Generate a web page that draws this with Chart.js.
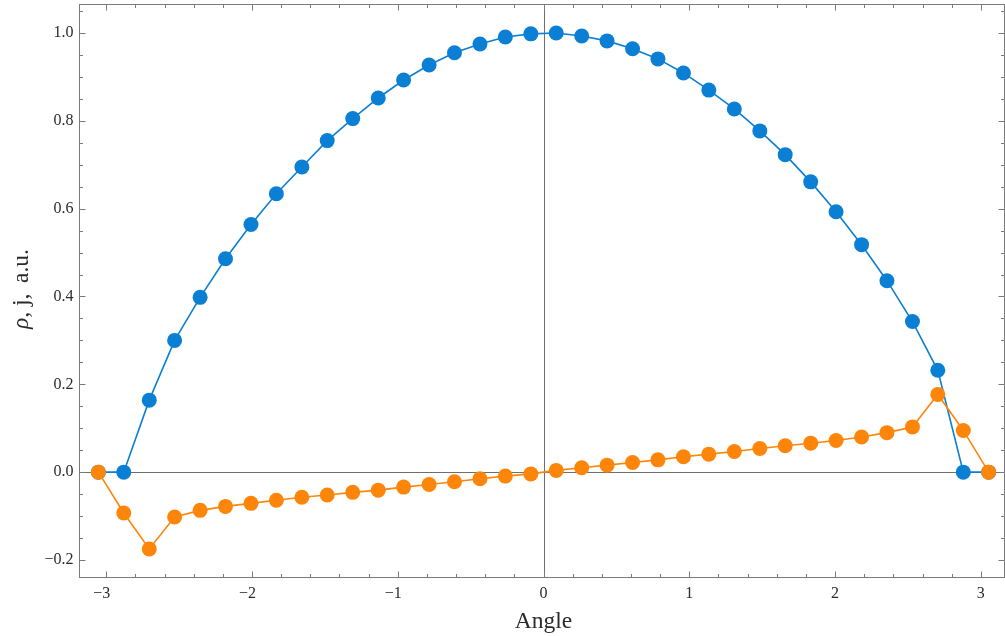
<!DOCTYPE html>
<html>
<head>
<meta charset="utf-8">
<script src="https://cdn.jsdelivr.net/npm/chart.js@4.4.1/dist/chart.umd.min.js"></script>
<style>
  body { margin: 0; background: #fff; }
  #wrap { width: 1005px; height: 636px; position: relative; }
</style>
</head>
<body>
<div id="wrap"><canvas id="plot"></canvas></div>
<script>
// sample angles (rad)
const angles = [
  -3.054, -2.880, -2.705, -2.531, -2.356, -2.182, -2.007, -1.833, -1.658,
  -1.484, -1.309, -1.134, -0.960, -0.785, -0.611, -0.436, -0.262, -0.087,
  0.087, 0.262, 0.436, 0.611, 0.785, 0.960, 1.134, 1.309, 1.484,
  1.658, 1.833, 2.007, 2.182, 2.356, 2.531, 2.705, 2.880, 3.054
];
// density rho
const rhoValues = [
  0.000, 0.000, 0.164, 0.300, 0.398, 0.486, 0.564, 0.634, 0.695,
  0.755, 0.805, 0.852, 0.893, 0.927, 0.955, 0.975, 0.991, 0.998,
  1.000, 0.993, 0.982, 0.964, 0.941, 0.909, 0.870, 0.827, 0.777,
  0.723, 0.661, 0.593, 0.518, 0.436, 0.343, 0.232, 0.000, 0.000
];
// current j
const jValues = [
  0.000, -0.093, -0.175, -0.102, -0.087, -0.078, -0.071, -0.064, -0.057,
  -0.052, -0.046, -0.041, -0.034, -0.028, -0.022, -0.015, -0.009, -0.004,
  0.004, 0.010, 0.016, 0.022, 0.028, 0.035, 0.041, 0.047, 0.054,
  0.060, 0.066, 0.072, 0.080, 0.090, 0.103, 0.177, 0.095, 0.000
];
const xTicks = [-3, -2, -1, 0, 1, 2, 3];
const yTicks = [-0.2, 0, 0.2, 0.4, 0.6, 0.8, 1.0];

const BLUE = "#0b7fd3";
const ORANGE = "#fd860a";
const FRAME = "#7a7a7a";
const FONT = "'Liberation Serif', 'DejaVu Serif', serif";

function fmtX(v) {
  return v < 0 ? "\u2212" + Math.abs(v) : String(v);
}
function fmtY(v) {
  const s = Math.abs(v).toFixed(1);
  return v < -1e-9 ? "\u2212" + s : s;
}

// zero axes behind the data
const zeroAxes = {
  id: "zeroAxes",
  beforeDatasetsDraw(chart) {
    const { ctx, chartArea: a, scales: { x, y } } = chart;
    ctx.save();
    ctx.strokeStyle = "#6e6e6e";
    ctx.lineWidth = 1;
    const x0 = Math.round(x.getPixelForValue(0)) + 0.5;
    const y0 = Math.round(y.getPixelForValue(0)) + 0.5;
    ctx.beginPath();
    ctx.moveTo(x0, a.top);
    ctx.lineTo(x0, a.bottom);
    ctx.moveTo(a.left, y0);
    ctx.lineTo(a.right, y0);
    ctx.stroke();
    ctx.restore();
  }
};

// frame, inward ticks, labels and titles
const frame = {
  id: "frame",
  afterDraw(chart) {
    const { ctx, chartArea: a, scales: { x, y } } = chart;
    ctx.save();
    ctx.strokeStyle = FRAME;
    ctx.lineWidth = 1;
    const L = Math.round(a.left) + 0.5, R = Math.round(a.right) - 0.5;
    const T = Math.round(a.top) + 0.5, B = Math.round(a.bottom) - 0.5;
    ctx.strokeRect(L, T, R - L, B - T);

    ctx.beginPath();
    // x ticks: major every 1, minor every 0.2
    for (let i = -16; i <= 16; i++) {
      const v = i / 5;
      if (v < x.min || v > x.max) continue;
      const len = i % 5 === 0 ? 6 : 3.5;
      const px = Math.round(x.getPixelForValue(v)) + 0.5;
      ctx.moveTo(px, B); ctx.lineTo(px, B - len);
      ctx.moveTo(px, T); ctx.lineTo(px, T + len);
    }
    // y ticks: major every 0.2, minor every 0.05
    for (let i = -5; i <= 21; i++) {
      const v = i / 20;
      if (v < y.min || v > y.max) continue;
      const len = i % 4 === 0 ? 6 : 3.5;
      const py = Math.round(y.getPixelForValue(v)) + 0.5;
      ctx.moveTo(L, py); ctx.lineTo(L + len, py);
      ctx.moveTo(R, py); ctx.lineTo(R - len, py);
    }
    ctx.stroke();

    ctx.fillStyle = "#2b2b2b";
    ctx.font = "16px " + FONT;
    ctx.textAlign = "center";
    ctx.textBaseline = "top";
    xTicks.forEach(v => {
      const s = fmtX(v);
      let px = x.getPixelForValue(v);
      if (v < 0) px -= ctx.measureText("\u2212").width / 2;
      ctx.fillText(s, px, B + 8);
    });
    ctx.textAlign = "right";
    ctx.textBaseline = "middle";
    yTicks.forEach(v => {
      ctx.fillText(fmtY(v), L - 6, y.getPixelForValue(v));
    });

    // x title
    ctx.font = "23.5px " + FONT;
    ctx.textAlign = "center";
    ctx.textBaseline = "alphabetic";
    ctx.fillText("Angle", x.getPixelForValue(0), 628);

    // y title, rotated, with italic rho
    ctx.translate(28, 289);
    ctx.rotate(-Math.PI / 2);
    const parts = [["italic 23.5px " + FONT, "\u03c1"], ["23.5px " + FONT, ", j,\u2009 a.u."]];
    let total = 0;
    parts.forEach(p => { ctx.font = p[0]; total += ctx.measureText(p[1]).width; });
    let cx = -total / 2;
    ctx.textAlign = "left";
    parts.forEach(p => {
      ctx.font = p[0];
      ctx.fillText(p[1], cx, 0);
      cx += ctx.measureText(p[1]).width;
    });
    ctx.restore();
  }
};

const rhoPoints = angles.map((a, i) => ({ x: a, y: rhoValues[i] }));
const jPoints = angles.map((a, i) => ({ x: a, y: jValues[i] }));

new Chart(document.getElementById("plot"), {
  type: "scatter",
  data: {
    datasets: [
      {
        label: "j",
        data: jPoints,
        showLine: true,
        borderColor: ORANGE,
        backgroundColor: ORANGE,
        borderWidth: 1.6,
        pointRadius: 7.5,
        pointBorderWidth: 0,
        pointHoverRadius: 7.5,
        order: 1
      },
      {
        label: "rho",
        data: rhoPoints,
        showLine: true,
        borderColor: BLUE,
        backgroundColor: BLUE,
        borderWidth: 1.6,
        pointRadius: 7.5,
        pointBorderWidth: 0,
        pointHoverRadius: 7.5,
        order: 2
      }
    ]
  },
  options: {
    responsive: true,
    maintainAspectRatio: false,
    animation: false,
    layout: { autoPadding: false, padding: { top: 4, right: 0, left: 0, bottom: 0 } },
    plugins: { legend: { display: false }, tooltip: { enabled: false } },
    scales: {
      x: {
        type: "linear",
        min: -3.187,
        max: 3.166,
        grid: { display: false, drawTicks: false },
        border: { display: false },
        ticks: { display: false },
        afterFit(scale) { scale.height = 58; }
      },
      y: {
        type: "linear",
        min: -0.241,
        max: 1.066,
        grid: { display: false, drawTicks: false },
        border: { display: false },
        ticks: { display: false },
        afterFit(scale) { scale.width = 79; }
      }
    }
  },
  plugins: [zeroAxes, frame]
});
</script>
</body>
</html>
